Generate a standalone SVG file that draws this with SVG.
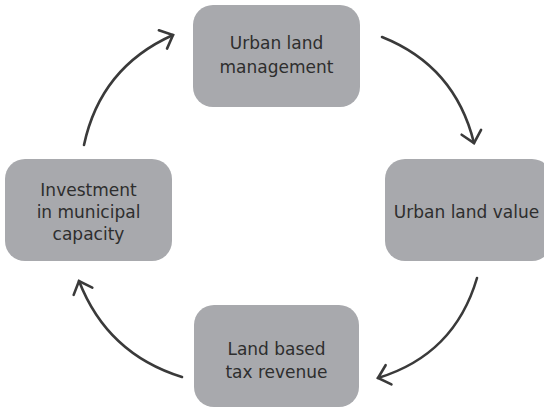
<svg xmlns="http://www.w3.org/2000/svg" width="544" height="407" viewBox="0 0 544 407">
<defs>
<style>
.box{fill:#a8a9ad;}
.lbl{font-family:"DejaVu Sans",sans-serif;font-size:17px;fill:#2e2e2e;text-anchor:middle;}
.arr{fill:none;stroke:#3a3a3a;stroke-width:2.6;stroke-linecap:round;marker-end:url(#chev);}
</style>
<marker id="chev" markerUnits="userSpaceOnUse" viewBox="-14 -14 18 28" markerWidth="18" markerHeight="28" refX="0" refY="0" orient="auto">
<path d="M-11,-10 L0,0 L-11,10" fill="none" stroke="#3a3a3a" stroke-width="2.6" stroke-linecap="round" stroke-linejoin="miter"/>
</marker>
</defs>
<rect width="544" height="407" fill="#ffffff"/>
<g id="connectors">
<path class="arr" d="M382,37 Q455,66 474,143"/>
<path class="arr" d="M477,278 Q454.5,354.7 378,378"/>
<path class="arr" d="M182,377 Q107.3,353.9 79,281"/>
<path class="arr" d="M84,145 Q100.5,67.4 173,35"/>
</g>
<g id="node-management">
<rect class="box" x="193" y="5" width="167" height="102" rx="20"/>
<text class="lbl" x="276.5" y="49">Urban land</text>
<text class="lbl" x="276.5" y="73">management</text>
</g>
<g id="node-value">
<rect class="box" x="385" y="159" width="167" height="102" rx="20"/>
<text class="lbl" x="466.5" y="218">Urban land value</text>
</g>
<g id="node-revenue">
<rect class="box" x="194" y="305" width="165" height="102" rx="20"/>
<text class="lbl" x="276.5" y="355">Land based</text>
<text class="lbl" x="276.5" y="378">tax revenue</text>
</g>
<g id="node-investment">
<rect class="box" x="5" y="159" width="167" height="102" rx="20"/>
<text class="lbl" x="88.5" y="196">Investment</text>
<text class="lbl" x="88.5" y="218">in municipal</text>
<text class="lbl" x="88.5" y="240">capacity</text>
</g>
</svg>
